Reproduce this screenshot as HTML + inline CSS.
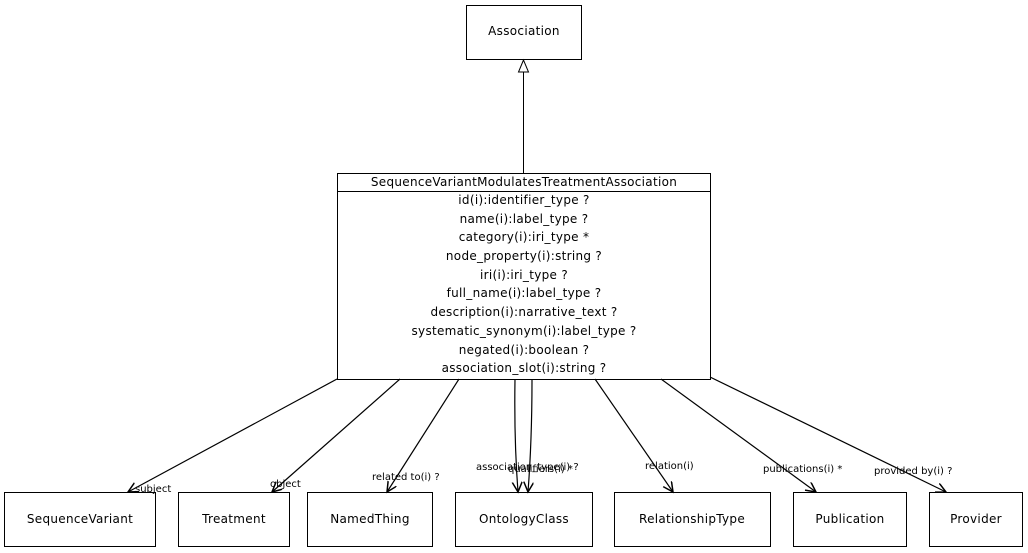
<!DOCTYPE html>
<html><head><style>body{margin:0;background:#fff}svg{display:block}</style></head><body>
<svg width="1028" height="553" xmlns="http://www.w3.org/2000/svg" font-family="DejaVu Sans, Liberation Sans, sans-serif">
<defs>
<marker id="a" markerWidth="12" markerHeight="12" refX="10" refY="5" orient="auto" markerUnits="userSpaceOnUse"><path d="M0,0 L10,5 L0,10" fill="none" stroke="#000" stroke-width="1.5"/></marker>
</defs>
<g fill="#fff" stroke="#000">
<rect x="466.5" y="5.5" width="115" height="54"/>
<rect x="337.5" y="173.5" width="373" height="206"/>
<rect x="4.5" y="492.5" width="151" height="54"/>
<rect x="178.5" y="492.5" width="111" height="54"/>
<rect x="307.5" y="492.5" width="125" height="54"/>
<rect x="455.5" y="492.5" width="137" height="54"/>
<rect x="614.5" y="492.5" width="156" height="54"/>
<rect x="793.5" y="492.5" width="113" height="54"/>
<rect x="929.5" y="492.5" width="93" height="54"/>
</g>
<line x1="337" y1="191.5" x2="710" y2="191.5" stroke="#000"/>
<line x1="523.5" y1="173" x2="523.5" y2="72" stroke="#000"/>
<path d="M523.5,60 L518.5,72 L528.5,72 Z" fill="#fff" stroke="#000"/>
<g stroke="#000" fill="none" stroke-width="1.2" marker-end="url(#a)">
<line x1="337" y1="379" x2="128" y2="492"/>
<line x1="400" y1="379" x2="272" y2="492"/>
<line x1="459" y1="379" x2="387" y2="492"/>
<path d="M515,379 Q514,440 518,492"/>
<path d="M532,379 Q532,440 528,492"/>
<line x1="595" y1="379" x2="673" y2="492"/>
<line x1="661" y1="379" x2="816" y2="492"/>
<line x1="710" y1="377" x2="946" y2="492"/>
</g>
<g font-size="12" text-anchor="middle" letter-spacing="0.3">
<text x="524" y="35">Association</text>
<text x="524" y="186">SequenceVariantModulatesTreatmentAssociation</text>
<text x="524" y="204">id(i):identifier_type ?</text>
<text x="524" y="223">name(i):label_type ?</text>
<text x="524" y="241">category(i):iri_type *</text>
<text x="524" y="260">node_property(i):string ?</text>
<text x="524" y="279">iri(i):iri_type ?</text>
<text x="524" y="297">full_name(i):label_type ?</text>
<text x="524" y="316">description(i):narrative_text ?</text>
<text x="524" y="335">systematic_synonym(i):label_type ?</text>
<text x="524" y="354">negated(i):boolean ?</text>
<text x="524" y="372">association_slot(i):string ?</text>
<text x="80" y="523">SequenceVariant</text>
<text x="234" y="523">Treatment</text>
<text x="370" y="523">NamedThing</text>
<text x="524" y="523">OntologyClass</text>
<text x="692" y="523">RelationshipType</text>
<text x="850" y="523">Publication</text>
<text x="976" y="523">Provider</text>
</g>
<g font-size="10">
<text x="135" y="492">subject</text>
<text x="270" y="487">object</text>
<text x="372" y="480">related to(i) ?</text>
<text x="476" y="470">association_type(i) ?</text>
<text x="508" y="472">qualifiers(i) *</text>
<text x="645" y="469">relation(i)</text>
<text x="763" y="472">publications(i) *</text>
<text x="874" y="474">provided by(i) ?</text>
</g>
</svg>
</body></html>
